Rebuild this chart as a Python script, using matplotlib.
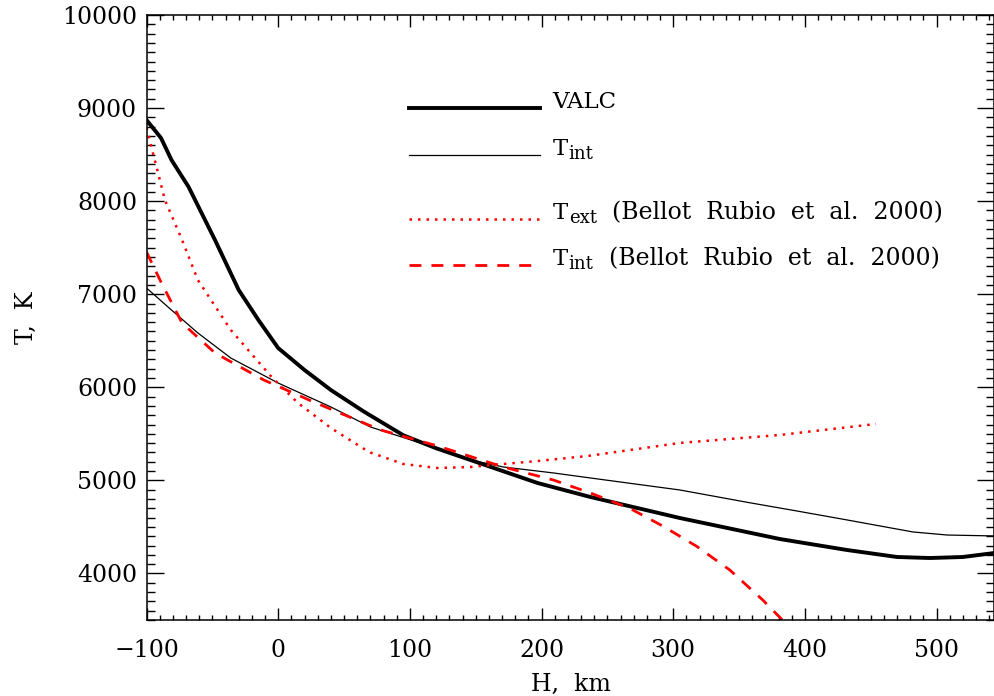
import matplotlib
matplotlib.use("Agg")
import matplotlib.pyplot as plt
from matplotlib.ticker import MultipleLocator

plt.rcParams["font.family"] = ["DejaVu Serif"]

# VALC model
valc_h = [-100, -89, -81, -68, -48, -30, -15, 0, 20, 40, 65, 95, 120, 146,
          197, 237, 305, 381, 432, 470, 495, 520, 544]
valc_t = [8872, 8679, 8442, 8152, 7583, 7046, 6723, 6422, 6186, 5971, 5740,
          5485, 5345, 5219, 4972, 4822, 4596, 4370, 4252, 4177, 4166, 4177,
          4220]

# T_int (this work)
tint_h = [-100, -81, -61, -36, 0, 40, 70, 108, 146, 171, 209, 237, 305, 358,
          394, 432, 482, 508, 544]
tint_t = [7067, 6830, 6584, 6315, 6046, 5789, 5574, 5402, 5219, 5144, 5080,
          5026, 4897, 4760, 4671, 4575, 4446, 4413, 4403]

# T_ext (Bellot Rubio et al. 2000)
text_h = [-100, -86, -73, -61, -36, -5, 15, 40, 65, 70, 95, 121, 146, 171,
          197, 235, 305, 381, 454]
text_t = [8790, 8012, 7583, 7153, 6616, 6111, 5832, 5563, 5340, 5300, 5176,
          5133, 5144, 5176, 5208, 5262, 5402, 5488, 5606]

# T_int (Bellot Rubio et al. 2000)
tbel_h = [-100, -89, -73, -48, -11, 27, 65, 78, 121, 171, 209, 237, 267, 292,
          318, 343, 368, 385]
tbel_t = [7454, 7131, 6691, 6369, 6079, 5842, 5617, 5541, 5370, 5144, 5004,
          4865, 4700, 4510, 4290, 4037, 3715, 3470]

# legend labels: (main, subscript, rest)
labels = [("VALC", "", ""),
          ("T", "int", ""),
          ("T", "ext", "  (Bellot  Rubio  et  al.  2000)"),
          ("T", "int", "  (Bellot  Rubio  et  al.  2000)")]

fig = plt.figure(figsize=(9.95, 6.96), dpi=100)
ax = fig.add_axes([146.5 / 995, 1 - 620 / 696, 848 / 995, 605 / 696])

styles = [
    dict(color="black", lw=2.8, ls="-"),
    dict(color="black", lw=0.9, ls="-"),
    dict(color="red", lw=1.8, ls=(0, (1, 2.4))),
    dict(color="red", lw=2.0, ls=(0, (4.3, 3.6))),
]
series = [(valc_h, valc_t), (tint_h, tint_t), (text_h, text_t), (tbel_h, tbel_t)]
for (h, t), st in zip(series, styles):
    ax.plot(h, t, **st)

ax.set_xlim(-100, 544)
ax.set_ylim(3500, 10000)

# legend drawn by hand (uneven spacing in the original)
leg_y = [0.846, 0.769, 0.663, 0.587]
for y, st, (main, sub, rest) in zip(leg_y, styles, labels):
    ax.plot([0.309, 0.464], [y, y], transform=ax.transAxes, **st)
    t1 = ax.text(0.479, y, main, transform=ax.transAxes, fontsize=16.5,
                 va="baseline")
    if sub:
        t2 = ax.annotate(sub, xy=(1, 0), xycoords=t1, xytext=(0.5, 0.5),
                         textcoords="offset points", fontsize=13,
                         va="baseline")
        if rest:
            ax.annotate(rest, xy=(1, 0), xycoords=(t2, t1), xytext=(0.5, 0),
                        textcoords="offset points", fontsize=17,
                        va="bottom")

ax.xaxis.set_major_locator(MultipleLocator(100))
ax.xaxis.set_minor_locator(MultipleLocator(10))
ax.yaxis.set_major_locator(MultipleLocator(1000))
ax.yaxis.set_minor_locator(MultipleLocator(100))

ax.tick_params(which="both", direction="in", top=True, right=True, width=1.0,
               labelsize=17)
ax.tick_params(axis="x", which="major", length=8.6, pad=13.5)
ax.tick_params(axis="x", which="minor", length=3.6)
ax.tick_params(axis="y", which="major", length=12, pad=6.8)
ax.tick_params(axis="y", which="minor", length=5.8)
for sp in ax.spines.values():
    sp.set_linewidth(1.1)

ax.set_xlabel("H,  km", fontsize=17)
ax.set_ylabel("T,  K", fontsize=17)
ax.xaxis.set_label_coords(0.5, -0.087)
ax.yaxis.set_label_coords(-0.128, 0.5)

fig.savefig("out.png", dpi=100)
